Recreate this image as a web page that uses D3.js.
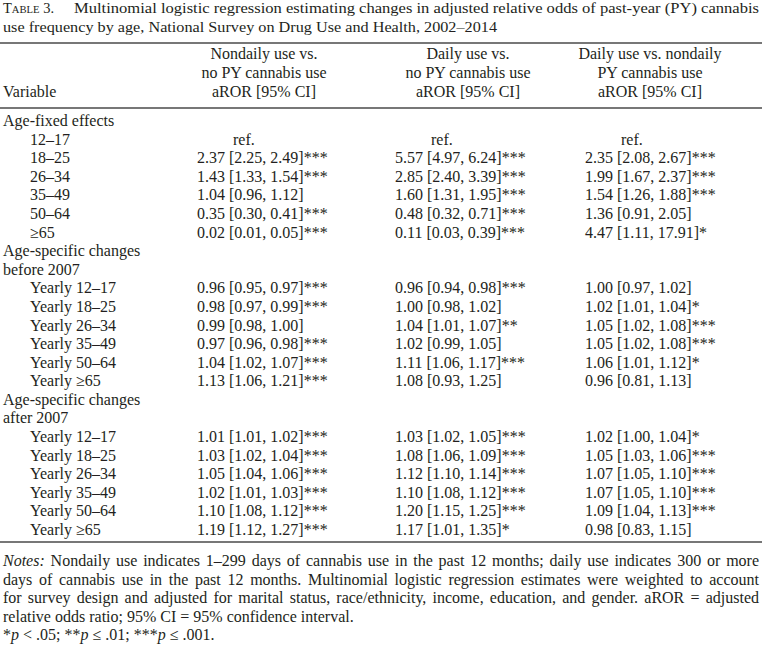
<!DOCTYPE html>
<html><head><meta charset="utf-8">
<script src="https://cdn.jsdelivr.net/npm/d3@7"></script>
<style>
body{margin:0;background:#fff}
text{font-family:"Liberation Serif","Times New Roman",serif;fill:#231f20;font-size:16px}
</style>
</head><body>
<svg id="c" width="762" height="648"></svg>
<script>
// ---- data ----
const tableNo = ["T", "ABLE", " 3."];
const titleLines = [
  "Multinomial logistic regression estimating changes in adjusted relative odds of past-year (PY) cannabis",
  "use frequency by age, National Survey on Drug Use and Health, 2002–2014"
];
const variableHeader = "Variable";
const columnHeaders = [
  ["Nondaily use vs.", "no PY cannabis use", "aROR [95% CI]"],
  ["Daily use vs.", "no PY cannabis use", "aROR [95% CI]"],
  ["Daily use vs. nondaily", "PY cannabis use", "aROR [95% CI]"]
];
const rowLabels = [
  "Age-fixed effects", "12–17", "18–25", "26–34", "35–49", "50–64", "≥65",
  "Age-specific changes", "before 2007",
  "Yearly 12–17", "Yearly 18–25", "Yearly 26–34", "Yearly 35–49", "Yearly 50–64", "Yearly ≥65",
  "Age-specific changes", "after 2007",
  "Yearly 12–17", "Yearly 18–25", "Yearly 26–34", "Yearly 35–49", "Yearly 50–64", "Yearly ≥65"
];
const rowIsSection = [1,0,0,0,0,0,0, 1,1, 0,0,0,0,0,0, 1,1, 0,0,0,0,0,0];
const nondailyVsNone = [
  "", "ref.", "2.37 [2.25, 2.49]***", "1.43 [1.33, 1.54]***", "1.04 [0.96, 1.12]", "0.35 [0.30, 0.41]***", "0.02 [0.01, 0.05]***",
  "", "",
  "0.96 [0.95, 0.97]***", "0.98 [0.97, 0.99]***", "0.99 [0.98, 1.00]", "0.97 [0.96, 0.98]***", "1.04 [1.02, 1.07]***", "1.13 [1.06, 1.21]***",
  "", "",
  "1.01 [1.01, 1.02]***", "1.03 [1.02, 1.04]***", "1.05 [1.04, 1.06]***", "1.02 [1.01, 1.03]***", "1.10 [1.08, 1.12]***", "1.19 [1.12, 1.27]***"
];
const dailyVsNone = [
  "", "ref.", "5.57 [4.97, 6.24]***", "2.85 [2.40, 3.39]***", "1.60 [1.31, 1.95]***", "0.48 [0.32, 0.71]***", "0.11 [0.03, 0.39]***",
  "", "",
  "0.96 [0.94, 0.98]***", "1.00 [0.98, 1.02]", "1.04 [1.01, 1.07]**", "1.02 [0.99, 1.05]", "1.11 [1.06, 1.17]***", "1.08 [0.93, 1.25]",
  "", "",
  "1.03 [1.02, 1.05]***", "1.08 [1.06, 1.09]***", "1.12 [1.10, 1.14]***", "1.10 [1.08, 1.12]***", "1.20 [1.15, 1.25]***", "1.17 [1.01, 1.35]*"
];
const dailyVsNondaily = [
  "", "ref.", "2.35 [2.08, 2.67]***", "1.99 [1.67, 2.37]***", "1.54 [1.26, 1.88]***", "1.36 [0.91, 2.05]", "4.47 [1.11, 17.91]*",
  "", "",
  "1.00 [0.97, 1.02]", "1.02 [1.01, 1.04]*", "1.05 [1.02, 1.08]***", "1.05 [1.02, 1.08]***", "1.06 [1.01, 1.12]*", "0.96 [0.81, 1.13]",
  "", "",
  "1.02 [1.00, 1.04]*", "1.05 [1.03, 1.06]***", "1.07 [1.05, 1.10]***", "1.07 [1.05, 1.10]***", "1.09 [1.04, 1.13]***", "0.98 [0.83, 1.15]"
];
const noteLines = [
  "~Notes: Nondaily use indicates 1–299 days of cannabis use in the past 12 months; daily use indicates 300 or more",
  "days of cannabis use in the past 12 months. Multinomial logistic regression estimates were weighted to account",
  "for survey design and adjusted for marital status, race/ethnicity, income, education, and gender. aROR = adjusted"
];
const noteLastLine = "relative odds ratio; 95% CI = 95% confidence interval.";
const sigLegend = [["*",0],["p",1],[" < .05; **",0],["p",1],[" ≤ .01; ***",0],["p",1],[" ≤ .001.",0]];

// ---- layout ----
const W = 762, L = 3, R = 759;
const svg = d3.select("#c");
const columns = [nondailyVsNone, dailyVsNone, dailyVsNondaily];
const colLeft = d3.scaleOrdinal().domain([0,1,2]).range([197, 395, 585]);
const colCenter = d3.scaleOrdinal().domain([0,1,2]).range([264, 468, 650]);
const refOffset = 36;
const rowY = d3.scaleLinear().domain([0, rowLabels.length - 1]).range([126, 535]);
const headerY = d3.scaleLinear().domain([0, 2]).range([59, 97]);
const noteY = d3.scaleLinear().domain([0, 4]).range([566, 640]);

// title
const t0 = svg.append("text").attr("x", L).attr("y", 13).style("font-size", "15px");
t0.append("tspan").text(tableNo[0]);
t0.append("tspan").style("font-size","11px").text(tableNo[1]);
t0.append("tspan").text(tableNo[2]);
t0.attr("textLength", 51).attr("lengthAdjust", "spacingAndGlyphs");
svg.append("text").attr("x", 74).attr("y", 13).style("font-size", "15.5px")
  .attr("textLength", R - 74).attr("lengthAdjust", "spacingAndGlyphs").text(titleLines[0]);
svg.append("text").attr("x", L).attr("y", 31.5).style("font-size", "15.5px")
  .attr("textLength", 494).attr("lengthAdjust", "spacingAndGlyphs").text(titleLines[1]);

// rules
const rules = [43, 108, 542];
svg.selectAll("line.rule").data(rules).join("line").attr("class","rule")
  .attr("x1", 0).attr("x2", W).attr("y1", d => d).attr("y2", d => d)
  .attr("stroke", "#4a4a4a").attr("stroke-width", 1.3);

// header
svg.append("text").attr("x", L).attr("y", headerY(2)).text(variableHeader);
columnHeaders.forEach((lines, c) => {
  svg.selectAll(null).data(lines).join("text")
    .attr("x", colCenter(c)).attr("y", (d, i) => headerY(i))
    .attr("text-anchor", "middle").text(d => d);
});

// rows
svg.selectAll("text.lab").data(rowLabels).join("text").attr("class","lab")
  .attr("x", (d, i) => rowIsSection[i] ? L : 30)
  .attr("y", (d, i) => rowY(i)).text(d => d);
columns.forEach((vals, c) => {
  svg.selectAll(null).data(vals).join("text")
    .attr("x", d => d === "ref." ? colLeft(c) + refOffset : colLeft(c))
    .attr("y", (d, i) => rowY(i)).text(d => d);
});

// notes (justified)
noteLines.forEach((line, li) => {
  const words = line.split(" ");
  const g = svg.append("g");
  const nodes = words.map(w => {
    const it = w.startsWith("~");
    return g.append("text").attr("y", noteY(li))
      .style("font-style", it ? "italic" : null).text(it ? w.slice(1) : w);
  });
  const widths = nodes.map(n => n.node().getComputedTextLength());
  const gap = (R - L - d3.sum(widths)) / (words.length - 1);
  let x = L;
  nodes.forEach((n, i) => { n.attr("x", x); x += widths[i] + gap; });
});
svg.append("text").attr("x", L).attr("y", noteY(3)).text(noteLastLine);
const sl = svg.append("text").attr("x", L).attr("y", noteY(4));
sigLegend.forEach(([s, it]) => sl.append("tspan").style("font-style", it ? "italic" : null).text(s));
</script>
</body></html>
